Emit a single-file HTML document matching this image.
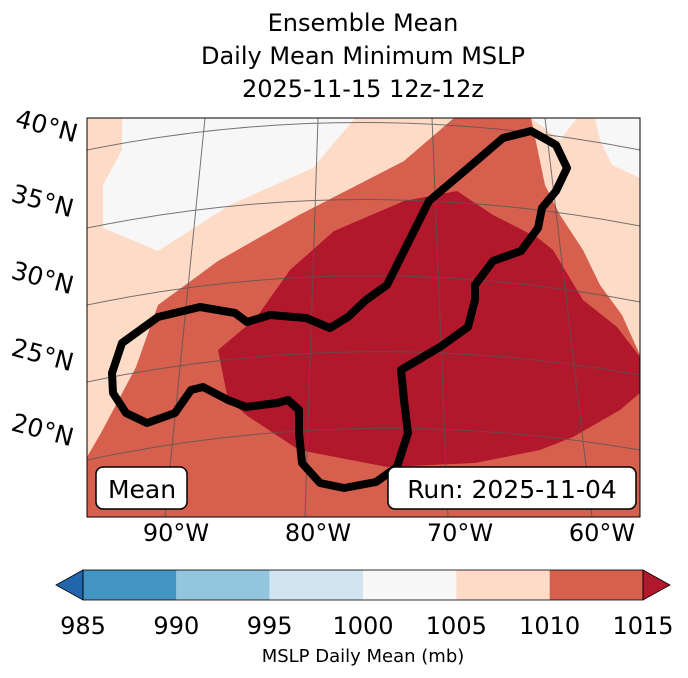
<!DOCTYPE html>
<html><head><meta charset="utf-8"><style>
body{margin:0;background:#fff;font-family:"DejaVu Sans",sans-serif}
svg text{font-family:"DejaVu Sans",sans-serif}
</style></head><body>
<svg width="688" height="674" viewBox="0 0 688 674">
<g font-size="24" text-anchor="middle" fill="#000">
<text x="363" y="31">Ensemble Mean</text>
<text x="363" y="64">Daily Mean Minimum MSLP</text>
<text x="363" y="97">2025-11-15 12z-12z</text>
</g>
<defs><clipPath id="mapclip"><rect x="87" y="118" width="553" height="399"/></clipPath></defs>
<g clip-path="url(#mapclip)">
<rect x="87" y="118" width="553" height="399" fill="#d6604d"/>
<path fill="#fddbc7" d="M87,118 L454,118 L404,161 L299,215 L218,261 L158,305 L136,367 L101,433 L87,457 Z"/>
<path fill="#fddbc7" d="M531,118 L640,118 L640,355 L622,315 L600,285 L583,250 L560,215 L545,185 Z"/>
<path fill="#f7f7f7" d="M122,118 L355,118 L313,168 L230,205 L158,251 L103,228 L103,185 L122,150 Z"/>
<path fill="#f7f7f7" d="M531,118 L577,118 L560,140 Z M595,118 L640,118 L640,178 L612,165 L600,140 Z"/>
<path fill="#b2182b" d="M256,318 L290,270 L334,231 L404,201 L457,191 L493,215 L538,238 L553,250 L583,300 L617,327 L640,357 L640,393 L620,410 L573,437 L540,450 L475,463 L387,467 L299,450 L249,417 L228,400 L218,350 Z"/>
<g stroke="#555" stroke-width="1" fill="none" opacity="0.8">
<path d="M87,150 Q360,95 640,150"/>
<path d="M87,228 Q360,172 640,226"/>
<path d="M87,305 Q360,248 640,302"/>
<path d="M87,382 Q360,325 640,375"/>
<path d="M87,460 Q360,402 640,450"/>
<path d="M205,118 L165,517"/>
<path d="M318,118 L305,517"/>
<path d="M432,118 L448,517"/>
<path d="M545,118 L592,517"/>
</g>
<path fill="none" stroke="#000" stroke-width="8" stroke-linejoin="round" d="M387,285 L404,251 L429,201 L468,168 L503,138 L531,131 L556,145 L567,168 L556,191 L542,208 L538,228 L521,251 L493,261 L475,285 L475,300 L468,327 L440,347 L401,370 L404,400 L408,433 L397,467 L376,482 L344,488 L320,483 L302,463 L299,433 L299,410 L288,400 L277,403 L246,407 L228,400 L203,387 L191,390 L175,413 L147,423 L126,413 L113,393 L112,373 L122,343 L158,317 L200,307 L235,313 L247,322 L270,315 L306,318 L330,328 L348,317 L366,300 Z"/>
</g>
<rect x="87" y="118" width="553" height="399" fill="none" stroke="#000" stroke-width="1"/>
<g>
<rect x="96" y="467" width="91" height="42" rx="7" fill="#fff" stroke="#000" stroke-width="1.5"/>
<text x="142" y="498" font-size="25" text-anchor="middle">Mean</text></g>
<g>
<rect x="388" y="467" width="248" height="42" rx="7" fill="#fff" stroke="#000" stroke-width="1.5"/>
<text x="512" y="498" font-size="25" text-anchor="middle">Run: 2025-11-04</text></g>
<g font-size="25">
<text transform="translate(14,126) rotate(15)">40°N</text>
<text transform="translate(10,201) rotate(15)">35°N</text>
<text transform="translate(10,278) rotate(15)">30°N</text>
<text transform="translate(10,355) rotate(15)">25°N</text>
<text transform="translate(10,430) rotate(15)">20°N</text>
</g>
<g font-size="24" text-anchor="middle">
<text x="176" y="541">90°W</text><text x="318" y="541">80°W</text>
<text x="460" y="541">70°W</text><text x="602" y="541">60°W</text>
</g>
<g id="cbar"></g>
<text x="363" y="662" font-size="18" text-anchor="middle">MSLP Daily Mean (mb)</text>
</svg>
<script>
const levels=[985,990,995,1000,1005,1010,1015];
const colors=["#4393c3","#92c5de","#d1e5f0","#f7f7f7","#fddbc7","#d6604d"];
const extColors=["#2166ac","#b2182b"];
const g=document.getElementById('cbar');
const NS='http://www.w3.org/2000/svg';
const x0=83,x1=643,y0=570,h=30;
const sx=v=>x0+(v-levels[0])/(levels[levels.length-1]-levels[0])*(x1-x0);
for(let i=0;i<colors.length;i++){
 const r=document.createElementNS(NS,'rect');
 r.setAttribute('x',sx(levels[i]));r.setAttribute('y',y0);
 r.setAttribute('width',sx(levels[i+1])-sx(levels[i]));r.setAttribute('height',h);
 r.setAttribute('fill',colors[i]);
 
 
 g.appendChild(r);
}
const l=document.createElementNS(NS,'polygon');
l.setAttribute('points',`${x0},${y0} ${x0-27},${y0+h/2} ${x0},${y0+h}`);
l.setAttribute('fill',extColors[0]);l.setAttribute('stroke','#000');l.setAttribute('stroke-width','0.8');


g.appendChild(l);
const rr=document.createElementNS(NS,'polygon');
rr.setAttribute('points',`${x1},${y0} ${x1+27},${y0+h/2} ${x1},${y0+h}`);
rr.setAttribute('fill',extColors[1]);rr.setAttribute('stroke','#000');rr.setAttribute('stroke-width','0.8');


g.appendChild(rr);
const fr=document.createElementNS(NS,'rect');
fr.setAttribute('x',x0);fr.setAttribute('y',y0);fr.setAttribute('width',x1-x0);fr.setAttribute('height',h);
fr.setAttribute('fill','none');fr.setAttribute('stroke','#000');fr.setAttribute('stroke-width','0.8');


g.appendChild(fr);
levels.forEach(v=>{
 const t=document.createElementNS(NS,'text');
 t.setAttribute('x',sx(v));t.setAttribute('y',634);
 t.setAttribute('font-size','24');t.setAttribute('text-anchor','middle');
 t.textContent=v;
 
 
 g.appendChild(t);
});
</script>
</body></html>
